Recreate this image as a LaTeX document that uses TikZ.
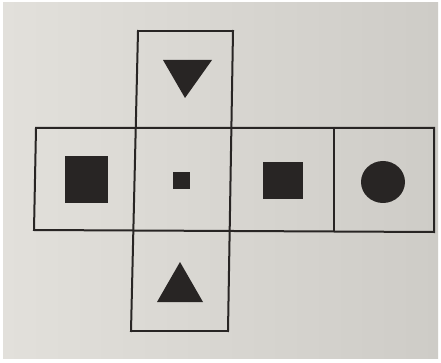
\documentclass[tikz,border=0pt]{standalone}
\definecolor{paperL}{RGB}{226,224,219}
\definecolor{paperR}{RGB}{206,204,199}
\definecolor{ink}{RGB}{40,37,36}
\begin{document}
\begin{tikzpicture}[x=1pt,y=-1pt,
  edge/.style={draw=ink,line width=2pt,line cap=rect},
  blob/.style={fill=ink,draw=none}]
\useasboundingbox (0,0) rectangle (441,363);
\fill[white] (0,0) rectangle (441,363);
\shade[left color=paperL,right color=paperR] (3,3) rectangle (438,358);
% net outline
\draw[edge] (138,31) -- (233,31);
\draw[edge] (138,31) -- (131,331);
\draw[edge] (233,31) -- (228,331);
\draw[edge] (131,331) -- (228,331);
\draw[edge] (36,128) -- (434,128) -- (434,232) -- (34,230) -- cycle;
\draw[edge] (334,128) -- (334,231);
% symbols
\fill[blob] (163,60) -- (212,60) -- (185,98) -- cycle;
\fill[blob] (65,156) rectangle (108,203);
\fill[blob] (173,172) rectangle (190,189);
\fill[blob] (263,162) rectangle (303,199);
\fill[blob] (383,182) ellipse [x radius=22, y radius=21];
\fill[blob] (157,302) -- (203,302) -- (180,262) -- cycle;
\end{tikzpicture}
\end{document}
